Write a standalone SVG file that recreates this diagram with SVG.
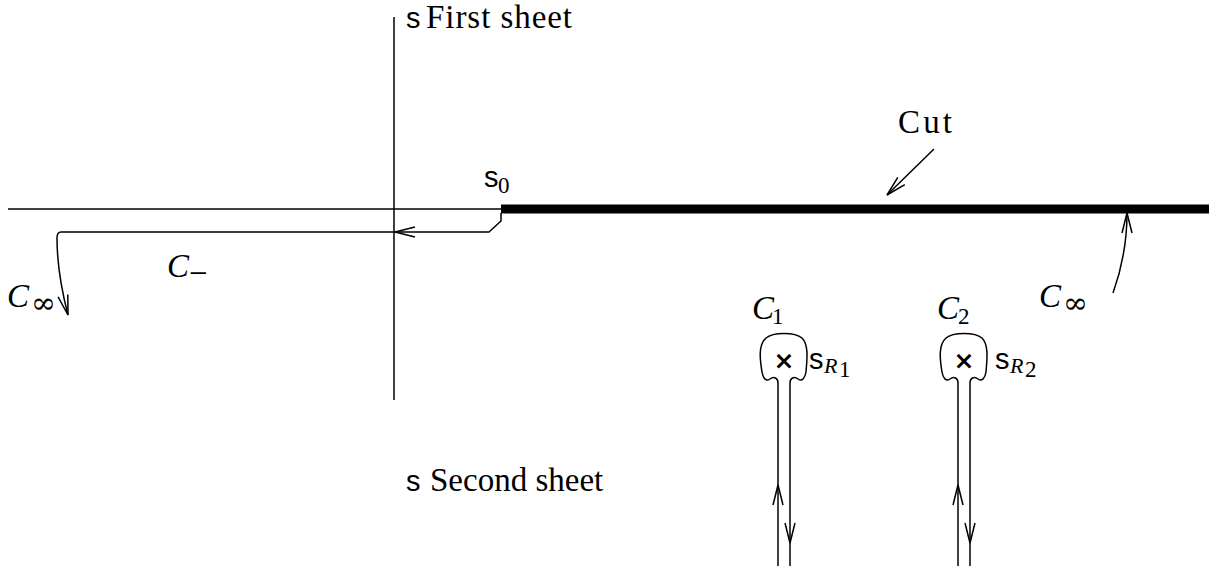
<svg xmlns="http://www.w3.org/2000/svg" width="1222" height="574" viewBox="0 0 1222 574">
<style>
.ln{fill:none;stroke:#000;stroke-width:1.5}
.rm{font-family:"Liberation Serif",serif;font-size:33px}
.it{font-family:"Liberation Serif",serif;font-style:italic;font-size:33px}
.sb{font-family:"Liberation Serif",serif;font-style:italic;font-size:22px}
.sbr{font-family:"Liberation Serif",serif;font-size:23px}
.inf{font-family:"DejaVu Serif",serif;font-size:30px}
.sf{font-family:"Liberation Sans",sans-serif;font-size:29px}
.x{font-family:"DejaVu Sans",sans-serif;font-size:25px;font-weight:bold}
</style>
<defs>
<marker id="a" markerUnits="userSpaceOnUse" markerWidth="30" markerHeight="20" viewBox="-25 -10 30 20" refX="0" refY="0" orient="auto">
<path d="M-20,-5 L0,0 L-20,5" fill="none" stroke="#000" stroke-width="1.5"/>
</marker>
</defs>
<rect width="1222" height="574" fill="#fff"/>
<g id="axes">
<path class="ln" d="M394,17 V400"/>
<path class="ln" d="M8,209 H501"/>
<path d="M501,209 H1209" stroke="#000" stroke-width="9" fill="none"/>
</g>
<g id="labels">
<text x="406" y="28"><tspan class="sf">s</tspan><tspan class="rm" x="426" textLength="146">First sheet</tspan></text>
<text x="406" y="491"><tspan class="sf">s</tspan><tspan class="rm" x="430">Second sheet</tspan></text>
<text class="rm" x="898" y="133" textLength="54">Cut</text>
<text x="484" y="187"><tspan class="sf">s</tspan><tspan class="sbr" x="498" y="193">0</tspan></text>
</g>
<g id="connectors">
<path class="ln" d="M501,213 V221 L489,232 H395" marker-end="url(#a)"/>
<path class="ln" d="M395,232 H61 Q57,232 57,238 C57,265 62,292 68,315" marker-end="url(#a)"/>
<path class="ln" d="M934,149 L887,195" marker-end="url(#a)"/>
<path class="ln" d="M1113,293 C1122,268 1127,242 1127,213" marker-end="url(#a)"/>
</g>
<g id="C-minus">
<text x="167" y="277"><tspan class="it">C</tspan><tspan class="rm" x="189" y="284" font-size="26">−</tspan></text>
</g>
<g id="C-inf-left">
<text x="7" y="307"><tspan class="it">C</tspan><tspan class="inf" x="31" y="313">∞</tspan></text>
</g>
<g id="C-inf-right">
<text x="1039" y="307"><tspan class="it">C</tspan><tspan class="inf" x="1063" y="313">∞</tspan></text>
</g>
<g id="C1">
<text x="752" y="319"><tspan class="it">C</tspan><tspan class="sbr" x="772" y="324">1</tspan></text>
<path class="ln" d="M778,566 V485" marker-end="url(#a)"/>
<path class="ln" d="M778,485 V383 C778,378 774,376 770,379 C766,382 763,378 762,372 C760,360 758,345 766,338 C773,332 795,332 802,338 C809,345 807,360 806,372 C805,378 802,382 798,379 C794,376 790,378 790,383 V543" marker-end="url(#a)"/>
<path class="ln" d="M790,543 V566"/>
<text class="x" x="784" y="369" text-anchor="middle">×</text>
<text x="809" y="369"><tspan class="sf">s</tspan><tspan class="sb" x="824" y="373">R</tspan><tspan class="sbr" x="839" y="377" font-size="16">1</tspan></text>
</g>
<g id="C2" transform="translate(180,0)">
<text x="757" y="319"><tspan class="it">C</tspan><tspan class="sbr" x="778" y="324">2</tspan></text>
<path class="ln" d="M778,566 V485" marker-end="url(#a)"/>
<path class="ln" d="M778,485 V383 C778,378 774,376 770,379 C766,382 763,378 762,372 C760,360 758,345 766,338 C773,332 795,332 802,338 C809,345 807,360 806,372 C805,378 802,382 798,379 C794,376 790,378 790,383 V543" marker-end="url(#a)"/>
<path class="ln" d="M790,543 V566"/>
<text class="x" x="784" y="369" text-anchor="middle">×</text>
<text x="815" y="369"><tspan class="sf">s</tspan><tspan class="sb" x="830" y="373">R</tspan><tspan class="sbr" x="845" y="377" font-size="16">2</tspan></text>
</g>
</svg>
